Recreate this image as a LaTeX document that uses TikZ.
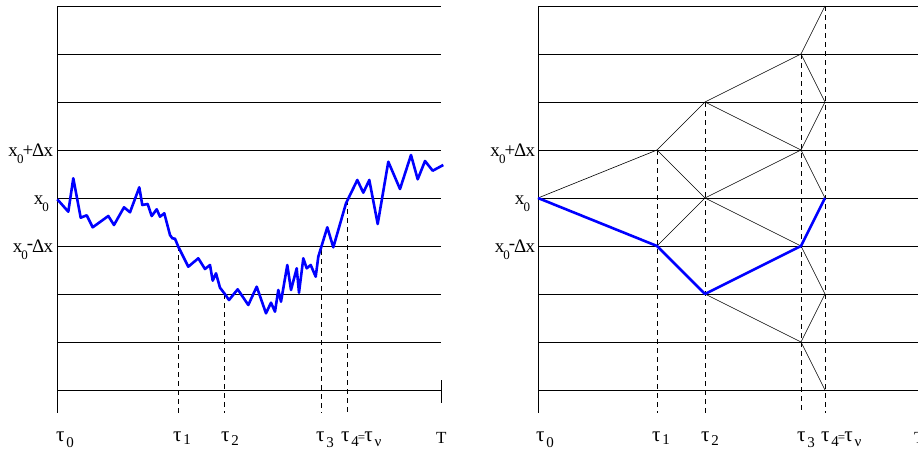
\documentclass[tikz,border=0pt]{standalone}
\usepackage{fontspec}
\setmainfont{Liberation Serif}
\newcommand{\xlab}[1]{\fontsize{19}{19}\selectfont x\kern-0.8pt\raisebox{-7.5pt}{\fontsize{13}{13}\selectfont 0}#1}
\newcommand{\tsym}{\fontsize{21}{21}\selectfont τ}
\newcommand{\tlab}[2]{\tsym\kern2pt\raisebox{-#2}{\fontsize{15}{15}\selectfont #1}}
\tikzset{
  grid/.style={line width=0.8pt, black},
  dashv/.style={line width=0.8pt, dash pattern=on 5pt off 4pt},
  walk/.style={line width=2.6pt, blue, line join=round},
  tree/.style={line width=0.6pt, black},
  lab/.style={inner sep=0pt, outer sep=0pt},
}
\begin{document}
\begin{tikzpicture}[x=1pt,y=-1pt]
\useasboundingbox (0,0) rectangle (918,450);
% ---------- left panel ----------
\foreach \k in {0,...,8} \draw[grid] (57,6+48*\k) -- (441,6+48*\k);
\draw[grid] (57,6) -- (57,413);
\draw[grid] (441,380) -- (441,403);
\coordinate (l1) at (178,246); \coordinate (l1b) at (178,413);
\coordinate (l2) at (224,294); \coordinate (l2b) at (224,413);
\coordinate (l3) at (321,250); \coordinate (l3b) at (321,413);
\coordinate (l4) at (347,200); \coordinate (l4b) at (347,413);
\foreach \i in {1,2,3,4} \draw[dashv] (l\i) -- (l\i b);
\draw[walk] plot coordinates {(57.3,199.3) (68.3,211.7) (73.3,178.3) (80.7,217.7) (86.7,215.3) (92.7,227.3) (108.3,216) (114,225) (124,207.3) (130,212.3) (139.3,187.3) (142.3,205) (147.7,204) (151.7,216) (156.7,209.3) (160,216.7) (164.3,213.3) (170,235) (172.3,238.3) (175,238.7) (178.3,246.7) (188.3,266.7) (198.3,258.3) (205,269) (210,265) (212.7,280.7) (216,273.3) (220,287.7) (224.3,293.3) (229,300) (237.7,289.3) (248.3,305) (256.7,286.7) (266,313.3) (271,302.7) (275,311.7) (278.3,290) (281,301.7) (287.3,265) (291,290) (296.7,268.3) (299,292.7) (303.3,258.3) (306.7,268.3) (310.7,265) (315.7,276.7) (318.3,256.7) (327.3,227.3) (333.3,247.3) (346,203.3) (357.3,180) (363.3,192.7) (369.3,180) (377.7,224) (388.3,161.7) (400,189) (411,155) (417.7,179.3) (425,161) (432.7,170.7) (443.3,165)};
\node[lab, anchor=base east] (lxp) at (53,156) {\xlab{\kern-1pt+\kern-1.2ptΔ\kern-0.8ptx}};
\node[lab, anchor=base east] (lx0) at (49,204) {\xlab{}};
\node[lab, anchor=base east] (lxm) at (53,252) {\xlab{\kern-1pt\raisebox{3pt}{-}\kern-1.2ptΔ\kern-0.8ptx}};
\node[lab, anchor=base west] (lt0) at (56,441) {\tlab{0}{6pt}};
\node[lab, anchor=base west] (lt1) at (173,441) {\tlab{1}{3pt}};
\node[lab, anchor=base west] (lt2) at (221,441) {\tlab{2}{4pt}};
\node[lab, anchor=base west] (lt3) at (316,441) {\tlab{3}{6pt}};
\node[lab, anchor=base west] (lt4) at (341,441) {\tlab{4}{5pt}\kern-1pt{\fontsize{13}{13}\selectfont =}\kern-1pt\tlab{ν}{5pt}};
\node[lab, anchor=base west] (lT) at (436,443) {\fontsize{17}{17}\selectfont T};
% ---------- right panel ----------
\foreach \k in {0,...,8} \draw[grid] (538,6+48*\k) -- (918,6+48*\k);
\draw[grid] (538,6) -- (538,413);
\foreach \c/\x in {0/538,1/657,2/705,3/801,4/825}
  \foreach \k in {-4,...,4}
    \coordinate (g\c_\k) at (\x,198+48*\k);
\foreach \c/\x in {1/657,2/705,3/801,4/825} \coordinate (b\c) at (\x,413);
\draw[dashv] (g1_-1) -- (b1);
\draw[dashv] (g2_-2) -- (b2);
\draw[dashv] (g3_-3) -- (b3);
\draw[dashv] (g4_-4) -- (b4);
\foreach \c/\k in {0/0,1/-1,1/1,2/-2,2/0,2/2,3/-3,3/-1,3/1,3/3} {
  \pgfmathtruncatemacro\n{\c+1}
  \pgfmathtruncatemacro\a{\k-1}
  \pgfmathtruncatemacro\b{\k+1}
  \draw[tree] (g\c_\k) -- (g\n_\a);
  \draw[tree] (g\c_\k) -- (g\n_\b);
}
\draw[walk] (g0_0) -- (g1_1) -- (g2_2) -- (g3_1) -- (g4_0);
\node[lab, anchor=base east] (rxp) at (535,156) {\xlab{\kern-1pt+\kern-1.2ptΔ\kern-0.8ptx}};
\node[lab, anchor=base east] (rx0) at (530,204) {\xlab{}};
\node[lab, anchor=base east] (rxm) at (535,252) {\xlab{\kern-1pt\raisebox{3pt}{-}\kern-1.2ptΔ\kern-0.8ptx}};
\node[lab, anchor=base west] (rt0) at (536,441) {\tlab{0}{6pt}};
\node[lab, anchor=base west] (rt1) at (652,441) {\tlab{1}{3pt}};
\node[lab, anchor=base west] (rt2) at (701,441) {\tlab{2}{4pt}};
\node[lab, anchor=base west] (rt3) at (797,441) {\tlab{3}{6pt}};
\node[lab, anchor=base west] (rt4) at (821,441) {\tlab{4}{5pt}\kern-1pt{\fontsize{13}{13}\selectfont =}\kern-1pt\tlab{ν}{5pt}};
\node[lab, anchor=base west] (rT) at (914,443) {\fontsize{17}{17}\selectfont T};
\end{tikzpicture}
\end{document}
